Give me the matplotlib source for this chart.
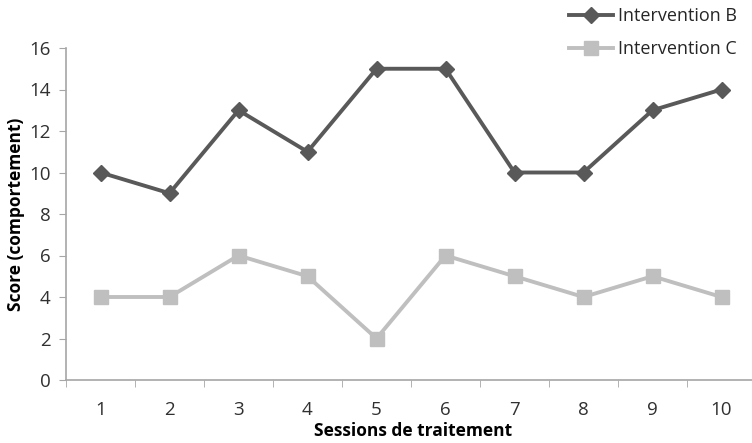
import numpy as np
import matplotlib.pyplot as plt

plt.rcParams['font.family'] = ['Open Sans', 'DejaVu Sans']

sessions = [1, 2, 3, 4, 5, 6, 7, 8, 9, 10]
intervention_b = [10, 9, 13, 11, 15, 15, 10, 10, 13, 14]
intervention_c = [4, 4, 6, 5, 2, 6, 5, 4, 5, 4]
y_ticks = [0, 2, 4, 6, 8, 10, 12, 14, 16]

fig = plt.figure(figsize=(7.52, 4.43), dpi=100)
ax = fig.add_axes([66 / 752, 63 / 443, 690 / 752, 332 / 443])

ax.plot(sessions, intervention_b, color='#595959', lw=2.8, marker='D',
        markersize=8, clip_on=False, label='Intervention B')
ax.plot(sessions, intervention_c, color='#bfbfbf', lw=2.8, marker='s',
        markersize=10, clip_on=False, label='Intervention C')

ax.set_xlim(0.5, 10.5)
ax.set_ylim(0, 16)
ax.set_yticks(y_ticks)
ax.set_xticks(sessions)
ax.set_xticks(np.arange(0.5, 11, 1), minor=True)
ax.tick_params(axis='x', which='major', length=0, pad=15, labelsize=13.5)
ax.tick_params(axis='x', which='minor', length=5, color='#a6a6a6', direction='out')
ax.tick_params(axis='y', length=5, color='#a6a6a6', labelsize=13.5, pad=6)
for lab in ax.get_xticklabels() + ax.get_yticklabels():
    lab.set_color('#303030')

for side in ['top', 'right']:
    ax.spines[side].set_visible(False)
for side in ['left', 'bottom']:
    ax.spines[side].set_color('#a6a6a6')
    ax.spines[side].set_linewidth(1.2)

ax.set_xlabel('Sessions de traitement', fontsize=12.5, fontweight='bold')
ax.set_ylabel('Score (comportement)', fontsize=12.5, fontweight='bold')
# label anchors in axes fraction
ax.xaxis.set_label_coords((413 - 66) / 690, -0.128)
ax.yaxis.set_label_coords(-0.06, 0.5)

leg = fig.legend(loc='upper left', bbox_to_anchor=(553 / 752, 1.02), frameon=False,
                 fontsize=13, handlelength=2.4, labelspacing=0.8, handletextpad=0.3)
for t in leg.get_texts():
    t.set_color('#262626')

fig.savefig('out.png', dpi=100)
